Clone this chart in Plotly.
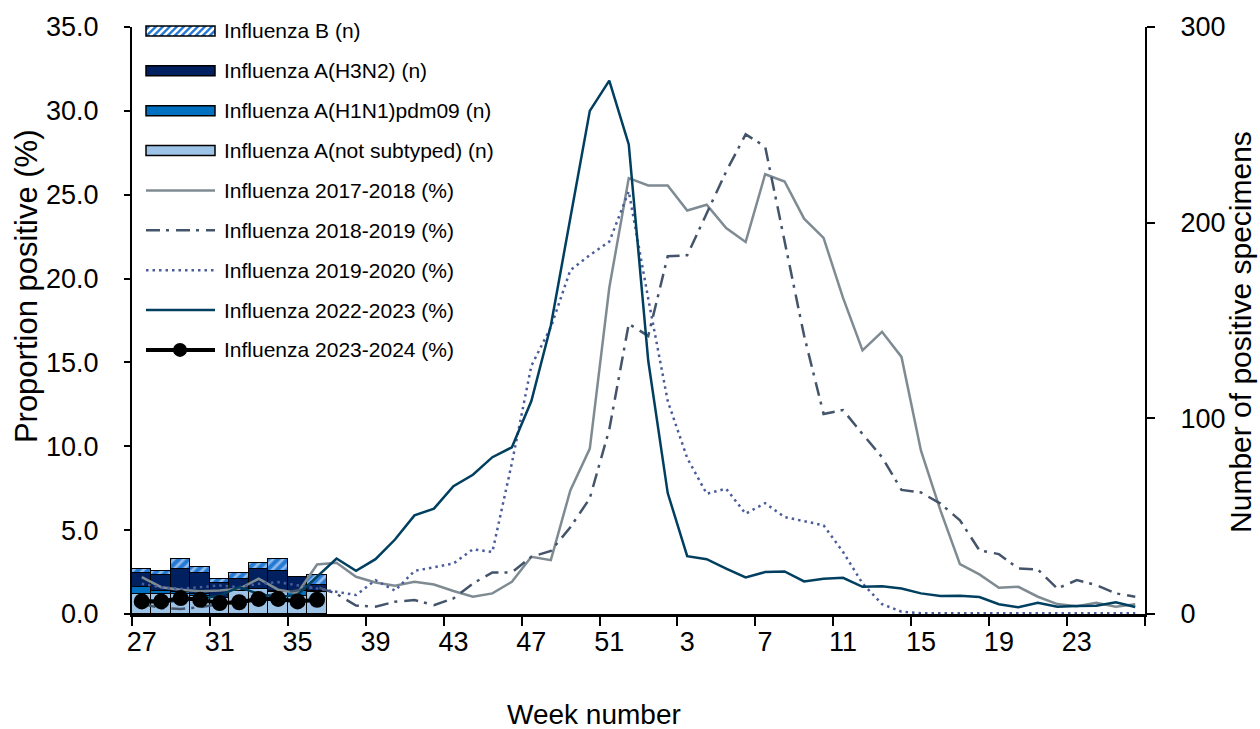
import plotly.graph_objects as go

# ---- data -------------------------------------------------------------
weeks = [str(w) for w in list(range(27, 53)) + list(range(1, 27))]

# counts of positive specimens, season 2023-2024 (weeks 27-36)
bar_weeks = weeks[:10]
n_not_subtyped = [10, 10, 10, 9, 8, 12, 13, 11, 9, 11]
n_h1n1 = [4, 2, 1, 1, 0, 0, 0, 1, 3, 1]
n_h3n2 = [7, 8, 12, 11, 8, 6, 10, 10, 7, 3]
n_b = [2, 2, 5, 3, 2, 3, 3, 6, 0, 5]

# proportion positive (%) by season
pct_2017_2018 = [2.2, 1.6, 1.45, 1.35, 1.4, 1.5, 2.1, 1.45, 1.25, 2.95,
                 3.05, 2.22, 1.88, 1.68, 1.92, 1.76, 1.37, 1.03, 1.23, 1.92,
                 3.41, 3.21, 7.37, 9.86, 19.45, 25.99, 25.55, 25.55, 24.06, 24.4,
                 23.01, 22.18, 26.22, 25.79, 23.57, 22.42, 18.85, 15.72, 16.83, 15.33,
                 9.74, 6.18, 2.97, 2.36, 1.57, 1.62, 1.03, 0.59, 0.47, 0.67,
                 0.43, 0.58]
pct_2018_2019 = [0.6, 0.35, 0.3, 0.4, 0.6, 0.8, 1.0, 1.2, 1.4, 1.62,
                 1.2, 0.5, 0.44, 0.73, 0.83, 0.53, 0.93, 1.82, 2.48, 2.48,
                 3.41, 3.76, 5.17, 6.9, 11.0, 17.3, 16.58, 21.33, 21.39, 23.85,
                 26.38, 28.6, 27.87, 22.22, 16.6, 11.93, 12.16, 10.73, 9.35, 7.4,
                 7.25, 6.58, 5.59, 3.8, 3.57, 2.71, 2.65, 1.52, 2.02, 1.72,
                 1.23, 1.03]
pct_2019_2020 = [1.8, 1.6, 1.5, 1.6, 1.7, 1.6, 1.8, 1.9, 1.7, 1.53,
                 1.29, 1.13, 2.02, 1.39, 2.57, 2.81, 3.01, 3.86, 3.7, 9.0,
                 14.8, 17.1, 20.5, 21.4, 22.2, 25.2, 18.8, 12.7, 9.3, 7.17,
                 7.47, 5.98, 6.61, 5.78, 5.54, 5.29, 3.7, 1.82, 0.59, 0.14,
                 0.05, 0.05, 0.05, 0.05, 0.05, 0.05, 0.05, 0.05, 0.05, 0.05,
                 0.05, 0.05]
pct_2022_2023 = [0.9, 0.7, 0.8, 0.9, 1.1, 1.6, 1.2, 1.0, 1.15, 2.2,
                 3.31, 2.57, 3.27, 4.44, 5.88, 6.28, 7.62, 8.3, 9.35, 9.94,
                 12.7, 17.2, 23.6, 30.0, 31.8, 28.0, 15.1, 7.21, 3.45, 3.27,
                 2.71, 2.18, 2.5, 2.54, 1.94, 2.1, 2.16, 1.62, 1.66, 1.52,
                 1.23, 1.07, 1.09, 1.01, 0.58, 0.4, 0.67, 0.43, 0.47, 0.49,
                 0.7, 0.42]
pct_2023_2024 = [0.75, 0.75, 0.95, 0.85, 0.65, 0.7, 0.9, 0.9, 0.75, 0.85]

y_left_ticks = [0, 5, 10, 15, 20, 25, 30, 35]
y_right_ticks = [0, 100, 200, 300]

# ---- styling ----------------------------------------------------------
FONT = "Liberation Sans, Arial, sans-serif"
C_NOT = "#9dc3e6"
C_H1 = "#0070c0"
C_H3 = "#002060"
C_B = "#2479d4"
C_1718 = "#7f8b92"
C_1819 = "#44546a"
C_1920 = "#4a5c9a"
C_2223 = "#003f5f"
C_2324 = "#000000"

W, H = 1260, 729
L, R, T, B = 132, 1145, 25, 614      # plot area in pixels

fig = go.Figure()

bar_line = dict(color="black", width=1.5)
fig.add_trace(go.Bar(x=bar_weeks, y=n_not_subtyped, name="Influenza A(not subtyped) (n)",
                     marker=dict(color=C_NOT, line=bar_line), yaxis="y"))
fig.add_trace(go.Bar(x=bar_weeks, y=n_h1n1, name="Influenza A(H1N1)pdm09 (n)",
                     marker=dict(color=C_H1, line=bar_line), yaxis="y"))
fig.add_trace(go.Bar(x=bar_weeks, y=n_h3n2, name="Influenza A(H3N2) (n)",
                     marker=dict(color=C_H3, line=bar_line), yaxis="y"))
fig.add_trace(go.Bar(x=bar_weeks, y=n_b, name="Influenza B (n)",
                     marker=dict(color=C_B, line=bar_line,
                                 pattern=dict(shape="/", fgcolor="white", bgcolor=C_B,
                                              size=7, solidity=0.4)),
                     yaxis="y"))

fig.add_trace(go.Scatter(x=weeks, y=pct_2017_2018, name="Influenza 2017-2018 (%)", mode="lines",
                         line=dict(color=C_1718, width=2.5), yaxis="y2"))
fig.add_trace(go.Scatter(x=weeks, y=pct_2018_2019, name="Influenza 2018-2019 (%)", mode="lines",
                         line=dict(color=C_1819, width=2.5, dash="14px,6px,3px,7px"), yaxis="y2"))
fig.add_trace(go.Scatter(x=weeks, y=pct_2019_2020, name="Influenza 2019-2020 (%)", mode="lines",
                         line=dict(color=C_1920, width=2.5, dash="2.5px,4px"), yaxis="y2"))
fig.add_trace(go.Scatter(x=weeks, y=pct_2022_2023, name="Influenza 2022-2023 (%)", mode="lines",
                         line=dict(color=C_2223, width=2.5), yaxis="y2"))
fig.add_trace(go.Scatter(x=bar_weeks, y=pct_2023_2024, name="Influenza 2023-2024 (%)",
                         mode="lines+markers", line=dict(color=C_2324, width=4),
                         marker=dict(size=16, color=C_2324), yaxis="y2"))


# ---- legend drawn in pixel space -------------------------------------
def px(xp):
    return (xp - L) / (R - L)


def py(yp):
    return (B - yp) / (B - T)


shapes = []
annotations = []
legend_items = [
    ("Influenza B (n)", "hatch", C_B),
    ("Influenza A(H3N2) (n)", "rect", C_H3),
    ("Influenza A(H1N1)pdm09 (n)", "rect", C_H1),
    ("Influenza A(not subtyped) (n)", "rect", C_NOT),
    ("Influenza 2017-2018 (%)", "solid", C_1718),
    ("Influenza 2018-2019 (%)", "14px,6px,3px,7px", C_1819),
    ("Influenza 2019-2020 (%)", "2.5px,4px", C_1920),
    ("Influenza 2022-2023 (%)", "solid", C_2223),
    ("Influenza 2023-2024 (%)", "marker", C_2324),
]
sx0, sx1 = 146, 215
for k, (label, kind, color) in enumerate(legend_items):
    cy = 29 + 40 * k
    if kind in ("rect", "hatch"):
        y0, y1 = cy + 5, cy - 5
        shapes.append(dict(type="rect", xref="paper", yref="paper",
                           x0=px(sx0), x1=px(sx1), y0=py(y0), y1=py(y1),
                           fillcolor=color, line=dict(width=0), layer="above"))
        if kind == "hatch":
            path = ""
            hgt = y0 - y1
            s = sx0 - hgt
            while s < sx1:
                xa, ya = s, y0
                xb, yb = s + hgt, y1
                if xa < sx0:
                    ya = y0 - (sx0 - xa)
                    xa = sx0
                if xb > sx1:
                    yb = y1 + (xb - sx1)
                    xb = sx1
                path += f"M{px(xa)},{py(ya)}L{px(xb)},{py(yb)}"
                s += 7
            shapes.append(dict(type="path", xref="paper", yref="paper", path=path,
                               line=dict(color="white", width=2.5), layer="above"))
        shapes.append(dict(type="rect", xref="paper", yref="paper",
                           x0=px(sx0), x1=px(sx1), y0=py(y0), y1=py(y1),
                           line=dict(color="black", width=1.5), layer="above"))
    else:
        width = 4 if kind == "marker" else 2.5
        dash = "solid" if kind in ("solid", "marker") else kind
        shapes.append(dict(type="line", xref="paper", yref="paper",
                           x0=px(sx0), x1=px(sx1), y0=py(cy), y1=py(cy),
                           line=dict(color=color, width=width, dash=dash), layer="above"))
        if kind == "marker":
            r = 7
            shapes.append(dict(type="circle", xref="paper", yref="paper",
                               x0=px(180 - r), x1=px(180 + r), y0=py(cy + r), y1=py(cy - r),
                               fillcolor=color, line=dict(color=color, width=0), layer="above"))
    annotations.append(dict(text=label, xref="paper", yref="paper", x=px(222), y=py(cy),
                            xanchor="left", yanchor="middle", showarrow=False,
                            font=dict(family=FONT, size=21, color="black")))

# axis titles
annotations.append(dict(text="Week number", xref="paper", yref="paper",
                        x=px(594), y=py(715), xanchor="center", yanchor="middle",
                        showarrow=False, font=dict(family=FONT, size=28, color="black")))
annotations.append(dict(text="Proportion positive (%)", xref="paper", yref="paper",
                        x=px(26), y=py(285), xanchor="center", yanchor="middle", textangle=-90,
                        showarrow=False, font=dict(family=FONT, size=31, color="black")))
annotations.append(dict(text="Number of positive specimens", xref="paper", yref="paper",
                        x=px(1241), y=py(331), xanchor="center", yanchor="middle", textangle=-90,
                        showarrow=False, font=dict(family=FONT, size=30, color="black")))

tick_font = dict(family=FONT, size=27, color="black")

fig.update_layout(
    width=W, height=H,
    margin=dict(l=L, r=W - R, t=T, b=H - B, pad=0),
    paper_bgcolor="white", plot_bgcolor="white",
    barmode="stack", bargap=0,
    showlegend=False,
    font=dict(family=FONT, color="black"),
    xaxis=dict(type="category", categoryorder="array", categoryarray=weeks,
               range=[-0.5, len(weeks) - 0.5],
               tickmode="linear", tick0=0, dtick=4, tickson="boundaries",
               ticks="outside", ticklen=9, tickwidth=1.5, tickcolor="black",
               showline=True, linecolor="black", linewidth=2.5, tickangle=0,
               showgrid=False, zeroline=False, tickfont=tick_font, ticklabelstandoff=2),
    yaxis=dict(side="right", range=[0, 300], tickvals=y_right_ticks,
               ticks="outside", ticklen=8, tickwidth=1.5, tickcolor="black",
               showline=True, linecolor="black", linewidth=2, showgrid=False,
               zeroline=False, tickfont=tick_font, ticklabelstandoff=20),
    yaxis2=dict(side="left", overlaying="y", anchor="x", range=[0, 35],
                tickvals=y_left_ticks, tickformat=".1f",
                ticks="outside", ticklen=6, tickwidth=1.5, tickcolor="black",
                showline=True, linecolor="black", linewidth=2, showgrid=False,
                zeroline=False, tickfont=tick_font, ticklabelstandoff=20),
    shapes=shapes,
    annotations=annotations,
)

fig.write_html("out.html")
